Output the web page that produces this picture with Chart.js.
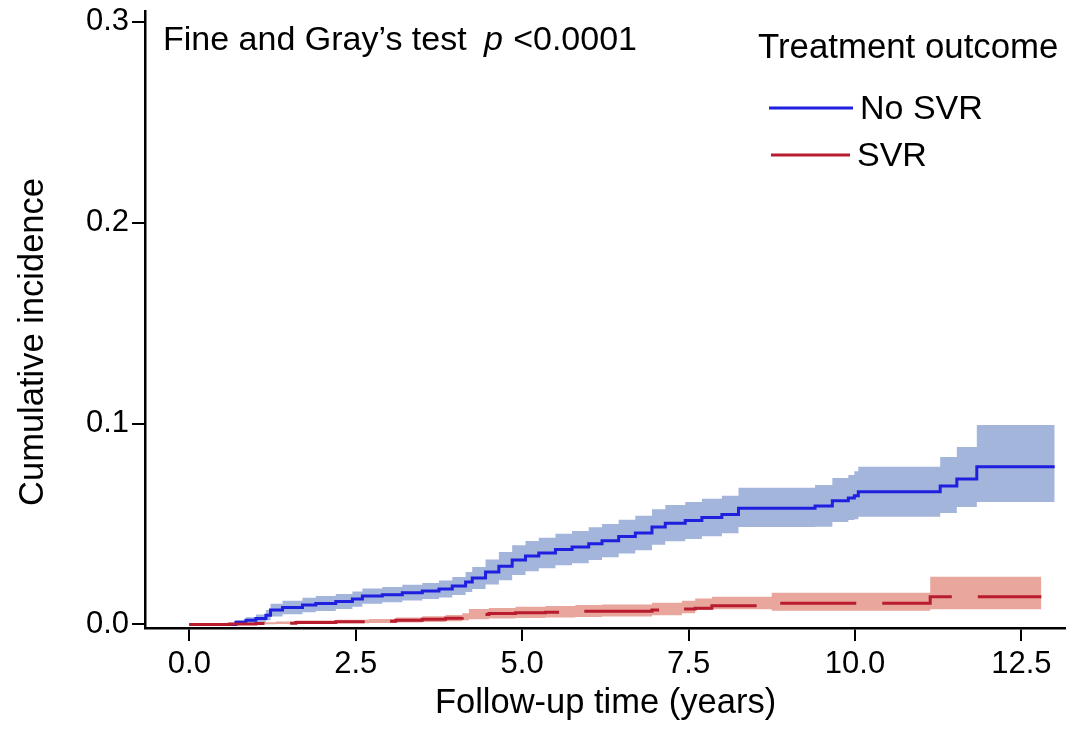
<!DOCTYPE html>
<html>
<head>
<meta charset="utf-8">
<script src="https://cdn.jsdelivr.net/npm/chart.js@4.4.1/dist/chart.umd.min.js"></script>
<style>
html,body{margin:0;padding:0;background:#fff;}
#wrap{width:1066px;height:731px;position:relative;}
</style>
</head>
<body>
<div id="wrap"><canvas id="c" width="1066" height="731"></canvas></div>
<script>
// ---- data ----
const noSvrTime  = [0, 0.56, 0.7, 0.85, 1.0, 1.15, 1.22, 1.4, 1.7, 1.9, 2.2, 2.45, 2.6, 2.9, 3.2, 3.5, 3.75, 3.95, 4.15, 4.25, 4.45, 4.65, 4.85, 5.05, 5.25, 5.5, 5.75, 6.0, 6.2, 6.45, 6.7, 6.95, 7.15, 7.45, 7.7, 8.0, 8.25, 9.4, 9.66, 9.9, 9.99, 10.05, 11.28, 11.53, 11.83, 13.0];
const noSvrEst   = [0, 0, 0.0011, 0.0021, 0.0029, 0.0046, 0.0071, 0.0084, 0.0096, 0.0104, 0.0114, 0.0126, 0.0141, 0.0148, 0.0158, 0.0166, 0.0176, 0.0191, 0.0211, 0.0231, 0.0261, 0.029, 0.032, 0.034, 0.0355, 0.0373, 0.0385, 0.0402, 0.0417, 0.0437, 0.0455, 0.0485, 0.0504, 0.0517, 0.0532, 0.0547, 0.0578, 0.0589, 0.0616, 0.0629, 0.064, 0.066, 0.0689, 0.0724, 0.0785, 0.0785];
const noSvrLower = [0, 0, 0.0002, 0.0006, 0.0009, 0.002, 0.0039, 0.005, 0.006, 0.0067, 0.0077, 0.0088, 0.0103, 0.011, 0.0119, 0.0126, 0.0134, 0.0146, 0.0161, 0.0176, 0.0199, 0.022, 0.0246, 0.0265, 0.0279, 0.0295, 0.0305, 0.032, 0.0334, 0.0353, 0.0369, 0.0397, 0.0414, 0.0425, 0.0439, 0.0454, 0.0485, 0.0486, 0.051, 0.052, 0.0524, 0.0536, 0.0554, 0.0584, 0.0609, 0.0609];
const noSvrUpper = [0, 0.0003, 0.0021, 0.0036, 0.0049, 0.0072, 0.0103, 0.0118, 0.0132, 0.0141, 0.0151, 0.0164, 0.0179, 0.0186, 0.0197, 0.0206, 0.0218, 0.0236, 0.0261, 0.0286, 0.0323, 0.036, 0.0394, 0.0415, 0.0431, 0.0451, 0.0465, 0.0484, 0.05, 0.0521, 0.0541, 0.0573, 0.0594, 0.0609, 0.0625, 0.064, 0.068, 0.0694, 0.0729, 0.0744, 0.0763, 0.0785, 0.0833, 0.0883, 0.0993, 0.0993];

const svrTime  = [0, 0.5, 0.6, 1.0, 1.3, 1.6, 2.2, 2.7, 3.1, 3.5, 3.85, 4.1, 4.2, 4.5, 4.9, 5.35, 5.8, 6.2, 6.95, 7.4, 7.6, 7.85, 8.75, 11.13, 12.8];
const svrEst   = [0, 0, 0.0002, 0.0004, 0.0006, 0.001, 0.0013, 0.0016, 0.0021, 0.0025, 0.003, 0.0036, 0.0049, 0.0054, 0.0058, 0.0061, 0.0065, 0.0066, 0.0071, 0.0076, 0.008, 0.0093, 0.0105, 0.0137, 0.0137];
const svrLower = [0, 0, 0, 0.0001, 0.0002, 0.0004, 0.0006, 0.0007, 0.001, 0.0012, 0.0015, 0.002, 0.0025, 0.0029, 0.0032, 0.0034, 0.0037, 0.0039, 0.0046, 0.0055, 0.0071, 0.0075, 0.0068, 0.0075, 0.0075];
const svrUpper = [0, 0, 0.0008, 0.0011, 0.0014, 0.0019, 0.0023, 0.0027, 0.0034, 0.004, 0.0047, 0.0055, 0.0076, 0.0082, 0.0088, 0.0092, 0.0097, 0.0099, 0.0108, 0.0118, 0.0129, 0.0137, 0.0157, 0.0237, 0.0237];

const seriesNames = ['No SVR', 'SVR'];
const legendTitle = 'Treatment outcome';
const xTickValues = [0, 2.5, 5, 7.5, 10, 12.5];
const xTickLabels = ['0.0', '2.5', '5.0', '7.5', '10.0', '12.5'];
const yTickValues = [0, 0.1, 0.2, 0.3];
const yTickLabels = ['0.0', '0.1', '0.2', '0.3'];
const xTitle = 'Follow-up time (years)';
const yTitle = 'Cumulative incidence';
const testTextParts = ['Fine and Gray\u2019s test', 'p', '<0.0001'];

// ---- styles ----
const FONT = 'Liberation Sans, Arial, sans-serif';
const blueLine = '#1F1FE0';
const blueBand = '#A3B5DA';
const redLine = '#B81C2E';
const redBand = '#E8A69D';

const pts = (xs, ys) => xs.map((x, i) => ({x: x, y: ys[i]}));

const datasets = [
  {label: 'noSvrLower', data: pts(noSvrTime, noSvrLower), stepped: 'before', borderWidth: 0, pointRadius: 0, fill: false, order: 2, borderColor: 'rgba(0,0,0,0)'},
  {label: 'noSvrUpper', data: pts(noSvrTime, noSvrUpper), stepped: 'before', borderWidth: 0, pointRadius: 0, fill: '-1', backgroundColor: blueBand, order: 2, borderColor: 'rgba(0,0,0,0)'},
  {label: 'svrLower', data: pts(svrTime, svrLower), stepped: 'before', borderWidth: 0, pointRadius: 0, fill: false, order: 1, borderColor: 'rgba(0,0,0,0)'},
  {label: 'svrUpper', data: pts(svrTime, svrUpper), stepped: 'before', borderWidth: 0, pointRadius: 0, fill: '-1', backgroundColor: redBand, order: 1, borderColor: 'rgba(0,0,0,0)'},
  {label: seriesNames[0], data: pts(noSvrTime, noSvrEst), stepped: 'before', borderWidth: 3, pointRadius: 0, fill: false, borderColor: blueLine, order: 0},
  {label: seriesNames[1], data: pts(svrTime, svrEst), stepped: 'before', borderWidth: 3, pointRadius: 0, fill: false, borderColor: redLine, borderDash: [76, 26], order: -1}
];

const extras = {
  id: 'extras',
  afterDraw(chart) {
    const ctx = chart.ctx;
    ctx.save();
    ctx.fillStyle = '#000';
    ctx.textBaseline = 'alphabetic';
    ctx.textAlign = 'left';
    // test annotation
    ctx.font = '34px ' + FONT;
    ctx.fillText(testTextParts[0], 163, 50);
    ctx.font = 'italic 34px ' + FONT;
    ctx.fillText(testTextParts[1], 484, 50);
    ctx.font = '34px ' + FONT;
    ctx.textAlign = 'right';
    ctx.fillText(testTextParts[2], 637, 50);
    ctx.textAlign = 'left';
    // legend
    ctx.font = '34.8px ' + FONT;
    ctx.fillText(legendTitle, 758, 58);
    ctx.lineWidth = 3;
    ctx.setLineDash([]);
    ctx.strokeStyle = blueLine;
    ctx.beginPath(); ctx.moveTo(769, 108); ctx.lineTo(853, 108); ctx.stroke();
    ctx.strokeStyle = redLine;
    ctx.beginPath(); ctx.moveTo(771, 155); ctx.lineTo(850, 155); ctx.stroke();
    ctx.font = '34px ' + FONT;
    ctx.fillText(seriesNames[0], 860, 119);
    ctx.fillText(seriesNames[1], 857, 166);
    // y axis title
    ctx.translate(33, 342);
    ctx.rotate(-Math.PI / 2);
    ctx.textAlign = 'center';
    ctx.textBaseline = 'middle';
    ctx.font = '34.5px ' + FONT;
    ctx.fillText(yTitle, 0, 0);
    ctx.restore();
  }
};

new Chart(document.getElementById('c'), {
  type: 'line',
  data: {datasets: datasets},
  plugins: [extras],
  options: {
    responsive: false,
    animation: false,
    events: [],
    layout: {padding: {left: 0, right: 0, top: 11, bottom: 0}},
    plugins: {legend: {display: false}, tooltip: {enabled: false}, title: {display: false}},
    scales: {
      x: {
        type: 'linear',
        min: -0.666,
        max: 13.17,
        afterBuildTicks: s => { s.ticks = xTickValues.map(v => ({value: v})); },
        afterFit: s => { s.height = 103; s.paddingLeft = 0; s.paddingRight = 0; },
        ticks: {
          autoSkip: false, maxRotation: 0, minRotation: 0, padding: 5,
          color: '#000', font: {family: FONT, size: 31},
          callback: (v, i) => xTickLabels[i]
        },
        grid: {display: true, drawOnChartArea: false, drawTicks: true, tickLength: 13, color: '#000', lineWidth: 2},
        border: {display: true, color: '#000', width: 2.5},
        title: {display: true, text: xTitle, color: '#000', font: {family: FONT, size: 34.5}, padding: {top: 0, bottom: 7}}
      },
      y: {
        type: 'linear',
        min: -0.0018,
        max: 0.3054,
        afterBuildTicks: s => { s.ticks = yTickValues.map(v => ({value: v})); },
        afterFit: s => { s.width = 145; s.paddingTop = 0; s.paddingBottom = 0; },
        ticks: {
          autoSkip: false, padding: 3,
          color: '#000', font: {family: FONT, size: 31},
          callback: (v, i) => yTickLabels[i]
        },
        grid: {display: true, drawOnChartArea: false, drawTicks: true, tickLength: 13, color: '#000', lineWidth: 2},
        border: {display: true, color: '#000', width: 2.5},
        title: {display: false}
      }
    }
  }
});
</script>
</body>
</html>
